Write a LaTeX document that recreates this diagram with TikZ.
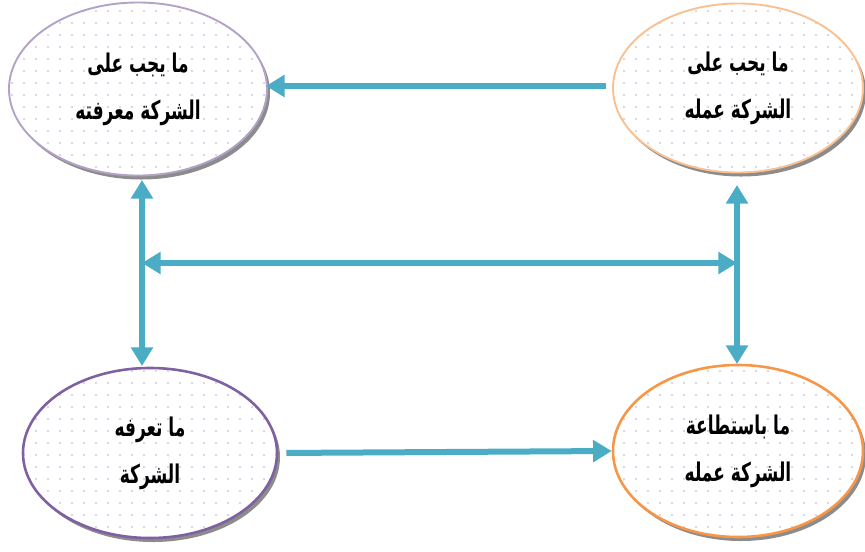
\documentclass[tikz,border=0pt]{standalone}
\usepackage{fontspec}
\newfontfamily\arabicfont[Script=Arabic, FakeStretch=0.66]{DejaVu Sans}
\TeXXeTstate=1
\usetikzlibrary{arrows.meta,shapes.geometric,shadows,patterns.meta}

\definecolor{linkblue}{HTML}{4BACC6}
\definecolor{lilac}{HTML}{B3A2C7}
\definecolor{peach}{HTML}{FAC090}
\definecolor{plum}{HTML}{7F60A0}
\definecolor{tangerine}{HTML}{F79646}
\definecolor{dotgray}{HTML}{B8AECF}

\tikzset{
  goal/.style={ellipse, line width=1.6pt, align=center,
    drop shadow={shadow xshift=0.09cm, shadow yshift=-0.12cm, fill=gray!90, opacity=1},
    preaction={fill=white},
    pattern={Dots[distance=0.36cm, radius=0.75pt]}, pattern color=dotgray,
    font=\arabicfont\bfseries\fontsize{22}{40}\selectfont},
  link/.style={linkblue, line width=0.18cm, -{Triangle[length=0.56cm, width=0.64cm]}},
  twolink/.style={link, {Triangle[length=0.56cm, width=0.64cm]}-{Triangle[length=0.56cm, width=0.64cm]}},
}

\begin{document}
\begin{tikzpicture}[x=0.03cm, y=-0.03cm]
  \useasboundingbox (0,0) rectangle (865,551);
  % the four ellipses
  \node[goal, draw=lilac, minimum width=7.74cm, minimum height=5.19cm] (know) at (138,89)
    {\beginR ما يجب على\endR\\\beginR الشركة معرفته\endR};
  \node[goal, draw=peach, minimum width=7.5cm, minimum height=5.07cm] (must) at (738,88)
    {\beginR ما يحب على\endR\\\beginR الشركة عمله\endR};
  \node[goal, draw=plum, line width=2.2pt, minimum width=7.62cm, minimum height=5.1cm] (knows) at (150,453)
    {\beginR ما تعرفه\endR\\\beginR الشركة\endR};
  \node[goal, draw=tangerine, line width=2.2pt, minimum width=7.5cm, minimum height=5.16cm] (can) at (738,451)
    {\beginR ما باستطاعة\endR\\\beginR الشركة عمله\endR};
  \coordinate (mid) at (142,263);
  % connectors
  \draw[link, shorten <=0.18cm, shorten >=-0.06cm] (must.west |- 0,86) -- (know.east |- 0,86);
  \draw[twolink] (142,180) -- (142,366);
  \draw[twolink] (737,185) -- (737,364);
  \draw[twolink] (mid) -- (mid -| 737,0);
  \draw[link, shorten <=0.24cm] (knows.east) -- (can.west);
\end{tikzpicture}
\end{document}
